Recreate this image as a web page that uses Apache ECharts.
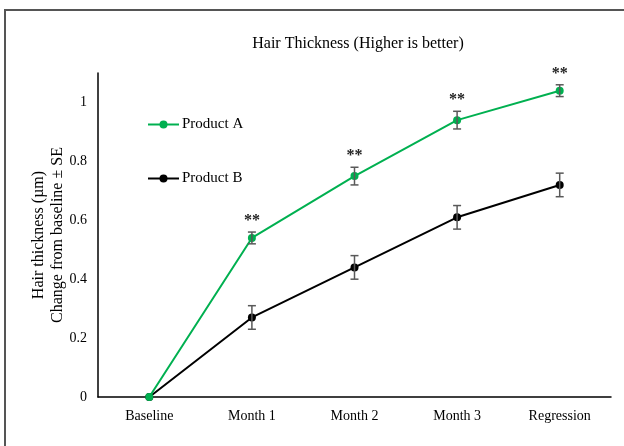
<!DOCTYPE html>
<html>
<head>
<meta charset="utf-8">
<script src="https://cdn.jsdelivr.net/npm/echarts@6/dist/echarts.min.js"></script>
<style>
  html, body { margin: 0; padding: 0; background: #fff; }
  #chart { width: 624px; height: 446px; }
</style>
</head>
<body>
<div id="chart"></div>
<script>
// Visit labels along the x axis
const categories = ['Baseline', 'Month 1', 'Month 2', 'Month 3', 'Regression'];
// Mean change from baseline (µm)
const productA = [0, 0.54, 0.75, 0.94, 1.04];
const productB = [0, 0.27, 0.44, 0.61, 0.72];
// Standard errors
const errA = [0, 0.02, 0.03, 0.03, 0.02];
const errB = [0, 0.04, 0.04, 0.04, 0.04];
// Significance markers above Product A
const sigA = ['', '**', '**', '**', '**'];
const yTicks = [0, 0.2, 0.4, 0.6, 0.8, 1];

const FONT = '"Liberation Serif", "Times New Roman", serif';
const GREEN = '#00b050';

function errData(vals, errs, sig) {
  return vals.map((v, i) => [i, v - errs[i], v + errs[i], sig ? sig[i] : '']);
}

function errRender(params, api) {
  const x = api.value(0);
  const lo = api.coord([x, api.value(1)]);
  const hi = api.coord([x, api.value(2)]);
  const cap = 4;
  const style = { stroke: '#595959', lineWidth: 1.5, fill: null };
  const children = [];
  if (hi[1] < lo[1] - 0.5) {
    children.push(
      { type: 'line', shape: { x1: lo[0], y1: lo[1], x2: hi[0], y2: hi[1] }, style },
      { type: 'line', shape: { x1: lo[0] - cap, y1: lo[1], x2: lo[0] + cap, y2: lo[1] }, style },
      { type: 'line', shape: { x1: hi[0] - cap, y1: hi[1], x2: hi[0] + cap, y2: hi[1] }, style }
    );
  }
  const mark = api.value(3);
  if (mark) {
    children.push({
      type: 'text',
      style: {
        x: hi[0], y: hi[1] - 3, text: mark,
        font: 'bold 16px ' + FONT, fill: '#222',
        align: 'center', verticalAlign: 'bottom'
      }
    });
  }
  return { type: 'group', children };
}

const chart = echarts.init(document.getElementById('chart'), null, { renderer: 'canvas' });
chart.setOption({
  animation: false,
  backgroundColor: '#fff',
  textStyle: { fontFamily: FONT },
  title: {
    text: 'Hair Thickness (Higher is better)',
    left: 353, top: 31, textAlign: 'center',
    textStyle: { fontFamily: FONT, fontSize: 16, fontWeight: 'normal', color: '#000' }
  },
  legend: {
    orient: 'vertical',
    left: 147, top: 117, padding: 0,
    itemWidth: 31, itemHeight: 10, itemGap: 39,
    textStyle: { fontFamily: FONT, fontSize: 15, color: '#000', padding: [0, 0, 0, -2] },
    data: ['Product A', 'Product B']
  },
  grid: { left: 98, top: 73, right: 13, bottom: 49, containLabel: false },
  xAxis: {
    type: 'category', data: categories, boundaryGap: true,
    axisLine: { onZero: false, lineStyle: { color: '#000', width: 1.5 } },
    axisTick: { show: false },
    splitLine: { show: false },
    axisLabel: { fontFamily: FONT, fontSize: 14, color: '#000', margin: 12 }
  },
  yAxis: {
    type: 'value', min: 0, max: 1.1,
    name: 'Hair thickness (µm)\nChange from baseline ± SE',
    nameLocation: 'middle', nameGap: 31, nameMoveOverlap: false,
    nameTextStyle: { fontFamily: FONT, fontSize: 16, color: '#000', lineHeight: 19 },
    axisLine: { show: true, onZero: false, lineStyle: { color: '#000', width: 1.5 } },
    axisTick: { show: false },
    splitLine: { show: false },
    axisLabel: {
      customValues: yTicks,
      formatter: v => String(+v.toFixed(1)),
      fontFamily: FONT, fontSize: 14, color: '#000', margin: 11
    }
  },
  graphic: [{
    type: 'rect', silent: true, z: -1,
    shape: { x: 5, y: 10, width: 700, height: 500 },
    style: { fill: null, stroke: '#555', lineWidth: 2 }
  }],
  series: [
    {
      name: 'Product B', type: 'line', data: productB,
      symbol: 'circle', symbolSize: 8, z: 3,
      lineStyle: { color: '#000', width: 2 }, itemStyle: { color: '#000' }
    },
    {
      name: 'Product A', type: 'line', data: productA,
      symbol: 'circle', symbolSize: 8, z: 4,
      lineStyle: { color: GREEN, width: 2 }, itemStyle: { color: GREEN }
    },
    {
      type: 'custom', name: 'errB', renderItem: errRender, z: 5,
      data: errData(productB, errB), encode: { x: 0, y: [1, 2] }
    },
    {
      type: 'custom', name: 'errA', renderItem: errRender, z: 5,
      data: errData(productA, errA, sigA), encode: { x: 0, y: [1, 2] }
    }
  ]
});
</script>
</body>
</html>
